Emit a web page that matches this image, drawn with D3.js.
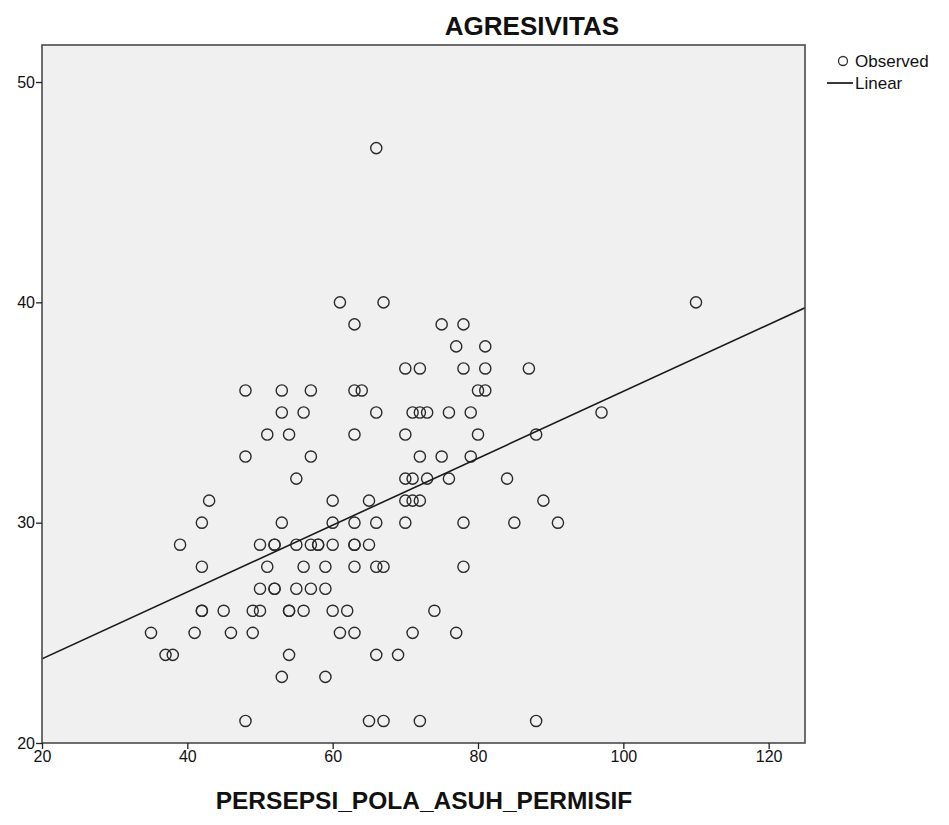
<!DOCTYPE html>
<html><head><meta charset="utf-8">
<script src="https://cdn.jsdelivr.net/npm/d3@7"></script>
<style>body{margin:0;background:#fff}svg{display:block}text{font-family:"Liberation Sans",Arial,sans-serif}</style>
</head><body><svg id="c" width="949" height="825"></svg>
<script>
// x values per observed y-score row
const yRows = [47, 40, 39, 38, 37, 36, 35, 34, 33, 32, 31, 30, 29, 28, 27, 26, 25, 24, 23, 21];
const xByRow = [
  [66],
  [61, 67, 110],
  [63, 75, 78],
  [77, 81],
  [70, 72, 78, 81, 87],
  [48, 53, 57, 63, 64, 80, 81],
  [53, 56, 66, 71, 72, 73, 76, 79, 97],
  [51, 54, 63, 70, 80, 88],
  [48, 57, 72, 75, 79],
  [55, 70, 71, 73, 76, 84],
  [43, 60, 65, 70, 71, 72, 89],
  [42, 53, 60, 63, 66, 70, 78, 85, 91],
  [39, 50, 52, 52, 55, 57, 58, 58, 60, 63, 63, 65],
  [42, 51, 56, 59, 63, 66, 67, 78],
  [50, 52, 52, 55, 57, 59],
  [42, 42, 45, 49, 50, 54, 54, 56, 60, 62, 74],
  [35, 41, 46, 49, 61, 63, 71, 77],
  [37, 38, 54, 66, 69],
  [53, 59],
  [48, 65, 67, 72, 88]
];
const xTicks = [20, 40, 60, 80, 100, 120];
const yTicks = [20, 30, 40, 50];
const xDomain = [20, 125];
const yDomain = [20, 51.68];
const titleText = "AGRESIVITAS";
const xLabel = "PERSEPSI_POLA_ASUH_PERMISIF";
const legendLabels = ["Observed", "Linear"];

const points = [];
yRows.forEach((y, i) => xByRow[i].forEach(x => points.push({x, y})));

// least squares fit
const mx = d3.mean(points, d => d.x), my = d3.mean(points, d => d.y);
const sxy = d3.sum(points, d => (d.x - mx) * (d.y - my));
const sxx = d3.sum(points, d => (d.x - mx) ** 2);
const slope = sxy / sxx, intercept = my - slope * mx;

const L = 42, R = 805, T = 45, B = 743;
const svg = d3.select("#c");
const x = d3.scaleLinear().domain(xDomain).range([L, R]);
const y = d3.scaleLinear().domain(yDomain).range([B, T]);

svg.append("rect").attr("x", L).attr("y", T).attr("width", R - L).attr("height", B - T)
  .attr("fill", "#f0f0f0").attr("stroke", "none");

svg.append("clipPath").attr("id", "pc").append("rect")
  .attr("x", L).attr("y", T).attr("width", R - L).attr("height", B - T);

svg.append("g").attr("clip-path", "url(#pc)").selectAll("circle").data(points).join("circle")
  .attr("cx", d => x(d.x)).attr("cy", d => y(d.y)).attr("r", 5.6)
  .attr("fill", "none").attr("stroke", "#2a2a2a").attr("stroke-width", 1.4);

svg.append("line").attr("clip-path", "url(#pc)")
  .attr("x1", x(xDomain[0])).attr("y1", y(intercept + slope * xDomain[0]))
  .attr("x2", x(xDomain[1])).attr("y2", y(intercept + slope * xDomain[1]))
  .attr("stroke", "#1a1a1a").attr("stroke-width", 1.6);

svg.append("rect").attr("x", L).attr("y", T).attr("width", R - L).attr("height", B - T)
  .attr("fill", "none").attr("stroke", "#4a4a4a").attr("stroke-width", 1.6);

const xAxis = svg.append("g").attr("transform", `translate(0,${B})`)
  .call(d3.axisBottom(x).tickValues(xTicks).tickSize(6).tickPadding(2));
const yAxis = svg.append("g").attr("transform", `translate(${L},0)`)
  .call(d3.axisLeft(y).tickValues(yTicks).tickSize(6).tickPadding(1));
[xAxis, yAxis].forEach(g => {
  g.select(".domain").remove();
  g.selectAll(".tick line").attr("stroke", "#222").attr("stroke-width", 1.3);
  g.selectAll(".tick text").attr("fill", "#111").style("font-size", "16px")
    .style("font-family", "'Liberation Sans', Arial, sans-serif");
});

svg.append("text").attr("x", 532).attr("y", 35).attr("text-anchor", "middle")
  .style("font-size", "26px").style("font-weight", "bold").attr("fill", "#111").text(titleText);
svg.append("text").attr("x", 424).attr("y", 809).attr("text-anchor", "middle")
  .style("font-size", "24.5px").style("font-weight", "bold").attr("fill", "#111").text(xLabel);

const lg = svg.append("g");
lg.append("circle").attr("cx", 843).attr("cy", 61).attr("r", 4.5)
  .attr("fill", "none").attr("stroke", "#333").attr("stroke-width", 1.3);
lg.append("text").attr("x", 855).attr("y", 67).style("font-size", "17px").attr("fill", "#111").text(legendLabels[0]);
lg.append("line").attr("x1", 827).attr("x2", 853).attr("y1", 83).attr("y2", 83)
  .attr("stroke", "#222").attr("stroke-width", 1.8);
lg.append("text").attr("x", 855).attr("y", 89).style("font-size", "17px").attr("fill", "#111").text(legendLabels[1]);
</script></body></html>
